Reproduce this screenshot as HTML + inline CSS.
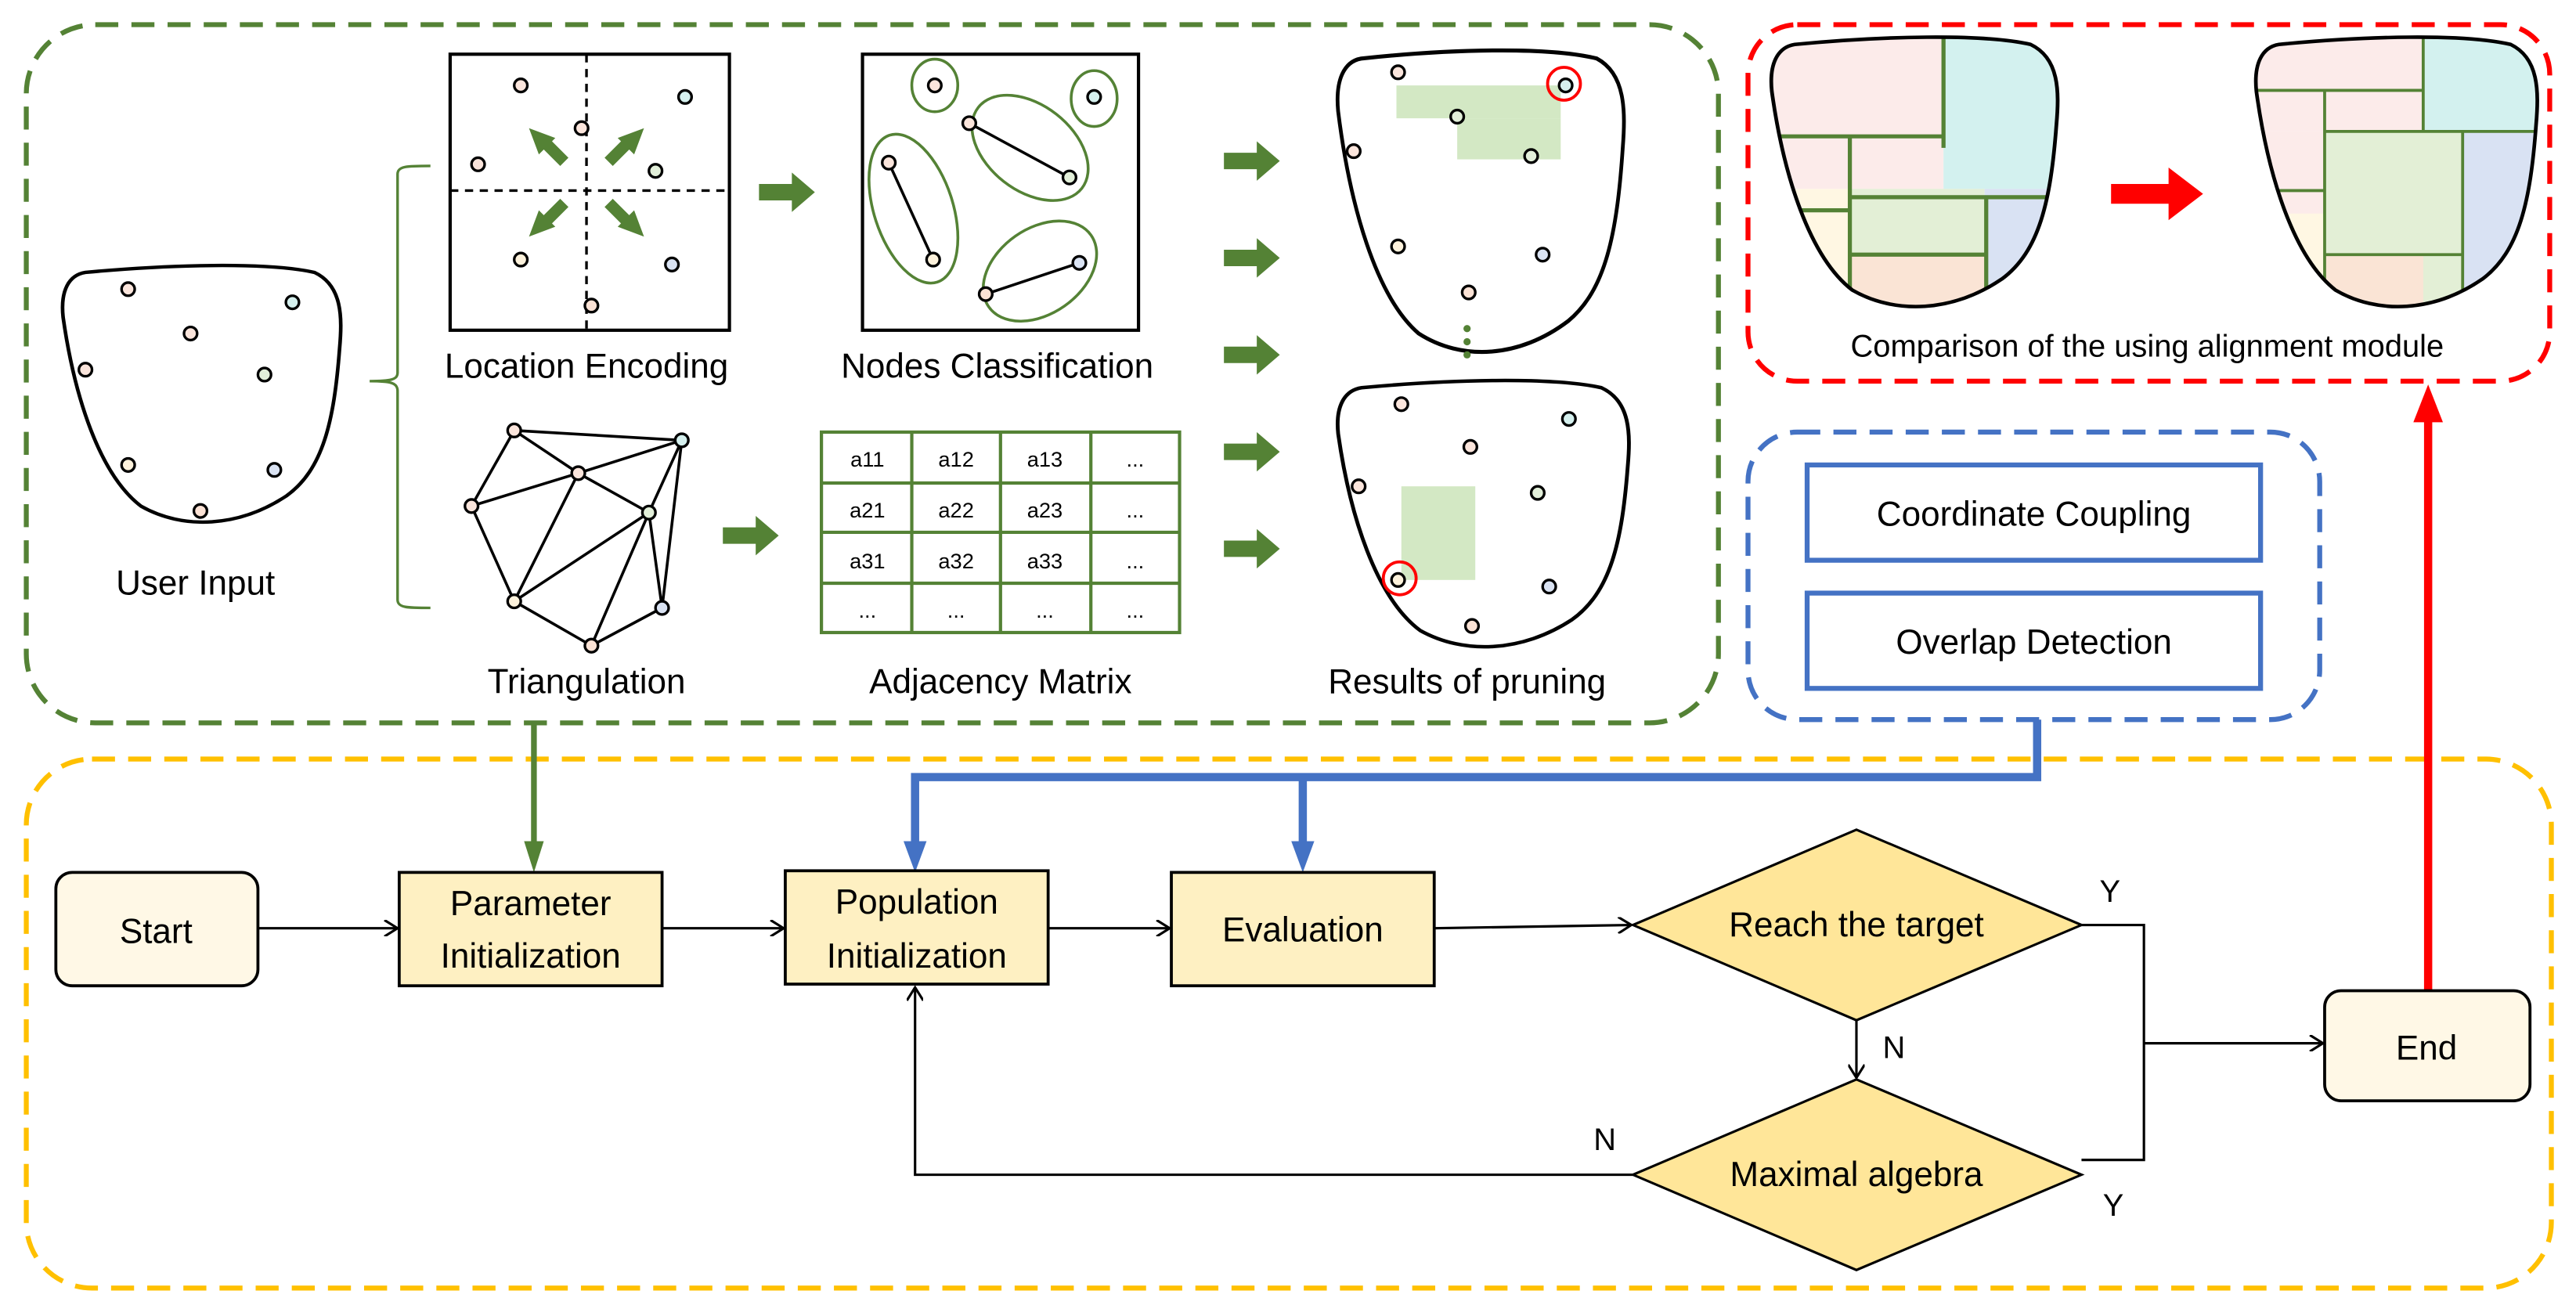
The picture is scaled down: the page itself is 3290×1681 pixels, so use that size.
<!DOCTYPE html>
<html><head><meta charset="utf-8"><style>
html,body{margin:0;padding:0;background:#fff;}
svg{display:block;}
text{font-family:"Liberation Sans",sans-serif;fill:#000;}
</style></head><body>
<svg width="3290" height="1681" viewBox="0 0 1568 801" preserveAspectRatio="none" xmlns="http://www.w3.org/2000/svg">
<defs>
<path id="blob" d="M10,3 C40,0 75,-1 92,3 C102,8 102,20 101,32 C99,60 95,78 82,88 C65,100 45,101 30,92 C15,80 6,50 2,20 C1,10 4,4 10,3 Z"/>
<clipPath id="cl1"><path transform="translate(1075,22) scale(1.75,1.68)" d="M10,3 C40,0 75,-1 92,3 C102,8 102,20 101,32 C99,60 95,78 82,88 C65,100 45,101 30,92 C15,80 6,50 2,20 C1,10 4,4 10,3 Z"/></clipPath>
<clipPath id="cl2"><path transform="translate(1370,22) scale(1.72,1.68)" d="M10,3 C40,0 75,-1 92,3 C102,8 102,20 101,32 C99,60 95,78 82,88 C65,100 45,101 30,92 C15,80 6,50 2,20 C1,10 4,4 10,3 Z"/></clipPath>
<marker id="ah" markerWidth="10" markerHeight="10" refX="9" refY="5" orient="auto" markerUnits="userSpaceOnUse"><path d="M1,0 L9,5 L1,10" fill="none" stroke="#000" stroke-width="1.5"/></marker>
<g id="garr"><path d="M0,-5 H20 V-12 L34,0 L20,12 V5 H0 Z" fill="#548235"/></g>
</defs>

<rect x="16" y="15" width="1030" height="425" rx="42" fill="none" stroke="#548235" stroke-width="3" stroke-dasharray="14,8"/>
<rect x="1064" y="15" width="488" height="217" rx="30" fill="none" stroke="#ff0000" stroke-width="3" stroke-dasharray="14,8"/>
<rect x="1064" y="263" width="348" height="175" rx="30" fill="none" stroke="#4472c4" stroke-width="3" stroke-dasharray="14,8"/>
<rect x="16" y="462" width="1537" height="322" rx="40" fill="none" stroke="#ffc000" stroke-width="3" stroke-dasharray="14,8"/>

<use href="#blob" transform="translate(35,161) scale(1.7,1.6)" fill="none" stroke="#000" stroke-width="1.3"/>
<g stroke="#000" stroke-width="1.6">
<circle cx="78" cy="176" r="4" fill="#fbe5dc"/><circle cx="178" cy="184" r="4" fill="#d5f0ee"/>
<circle cx="116" cy="203" r="4" fill="#fbe5dc"/><circle cx="52" cy="225" r="4" fill="#fbe5dc"/>
<circle cx="161" cy="228" r="4" fill="#e2efd9"/><circle cx="78" cy="283" r="4" fill="#fdf2dc"/>
<circle cx="167" cy="286" r="4" fill="#dae3f3"/><circle cx="122" cy="311" r="4" fill="#fbe2d5"/>
</g>
<text x="119" y="362" font-size="21" text-anchor="middle">User Input</text>

<path d="M262,101 C248,101 242,101 242,106 V227 C242,231 238,232 225,232 C238,232 242,233 242,238 V365 C242,370 248,370 262,370" fill="none" stroke="#548235" stroke-width="1.6"/>

<rect x="274" y="33" width="170" height="168" fill="none" stroke="#000" stroke-width="2"/>
<line x1="357" y1="33" x2="357" y2="201" stroke="#000" stroke-width="1.6" stroke-dasharray="5,4"/>
<line x1="274" y1="116" x2="444" y2="116" stroke="#000" stroke-width="1.6" stroke-dasharray="5,4"/>
<g fill="#548235">
<path d="M336,86 L346,96 L341,101 L331,91 L328,94 L322,78 L338,84 Z"/>
<path d="M373,101 L383,91 L386,94 L392,78 L376,84 L378,86 L368,96 Z"/>
<path d="M346,126 L336,136 L338,138 L322,144 L328,128 L331,131 L341,121 Z"/>
<path d="M368,126 L378,136 L376,138 L392,144 L386,128 L383,131 L373,121 Z"/>
</g>
<g stroke="#000" stroke-width="1.6">
<circle cx="317" cy="52" r="4" fill="#fbe5dc"/><circle cx="417" cy="59" r="4" fill="#d5f0ee"/>
<circle cx="354" cy="78" r="4" fill="#fbe5dc"/><circle cx="291" cy="100" r="4" fill="#fbe5dc"/>
<circle cx="399" cy="104" r="4" fill="#e2efd9"/><circle cx="317" cy="158" r="4" fill="#fdf2dc"/>
<circle cx="409" cy="161" r="4" fill="#dae3f3"/><circle cx="360" cy="186" r="4" fill="#fbe2d5"/>
</g>
<text x="357" y="230" font-size="21" text-anchor="middle">Location Encoding</text>

<g stroke="#000" stroke-width="1.7" fill="none">
<path d="M313,262 L415,268 L352,288 Z M313,262 L287,308 L352,288 M352,288 L395,312 L415,268 L403,370 L395,312 L360,393 L313,366 L287,308 M313,366 L352,288 M313,366 L395,312 M360,393 L403,370"/>
</g>
<g stroke="#000" stroke-width="1.6">
<circle cx="313" cy="262" r="4" fill="#fbe5dc"/><circle cx="415" cy="268" r="4" fill="#d5f0ee"/>
<circle cx="352" cy="288" r="4" fill="#fbe5dc"/><circle cx="287" cy="308" r="4" fill="#fbe5dc"/>
<circle cx="395" cy="312" r="4" fill="#e2efd9"/><circle cx="313" cy="366" r="4" fill="#fdf2dc"/>
<circle cx="403" cy="370" r="4" fill="#dae3f3"/><circle cx="360" cy="393" r="4" fill="#fbe2d5"/>
</g>
<text x="357" y="422" font-size="21" text-anchor="middle">Triangulation</text>

<use href="#garr" x="462" y="117"/>
<use href="#garr" x="440" y="326"/>

<rect x="525" y="33" width="168" height="168" fill="none" stroke="#000" stroke-width="2"/>
<g fill="none" stroke="#548235" stroke-width="1.7">
<ellipse cx="569" cy="52" rx="14" ry="16"/>
<ellipse cx="666" cy="60" rx="14" ry="17"/>
<ellipse cx="627" cy="90" rx="40" ry="26" transform="rotate(38 627 90)"/>
<ellipse cx="556" cy="127" rx="24" ry="47" transform="rotate(-18 556 127)"/>
<ellipse cx="633" cy="165" rx="38" ry="26" transform="rotate(-35 633 165)"/>
</g>
<g stroke="#000" stroke-width="1.7"><line x1="541" y1="99" x2="568" y2="158"/><line x1="590" y1="75" x2="651" y2="108"/><line x1="600" y1="179" x2="657" y2="160"/></g>
<g stroke="#000" stroke-width="1.6">
<circle cx="569" cy="52" r="4" fill="#fbe5dc"/><circle cx="666" cy="59" r="4" fill="#d5f0ee"/>
<circle cx="590" cy="75" r="4" fill="#fbe5dc"/><circle cx="541" cy="99" r="4" fill="#fbe5dc"/>
<circle cx="651" cy="108" r="4" fill="#e2efd9"/><circle cx="568" cy="158" r="4" fill="#fdf2dc"/>
<circle cx="657" cy="160" r="4" fill="#dae3f3"/><circle cx="600" cy="179" r="4" fill="#fbe2d5"/>
</g>
<text x="607" y="230" font-size="21" text-anchor="middle">Nodes Classification</text>

<g stroke="#548235" stroke-width="2" fill="none">
<rect x="500" y="263" width="218" height="122"/>
<line x1="555" y1="263" x2="555" y2="385"/><line x1="609" y1="263" x2="609" y2="385"/><line x1="664" y1="263" x2="664" y2="385"/>
<line x1="500" y1="294" x2="718" y2="294"/><line x1="500" y1="324" x2="718" y2="324"/><line x1="500" y1="355" x2="718" y2="355"/>
</g>
<g font-size="13" text-anchor="middle">
<text x="528" y="284">a11</text><text x="582" y="284">a12</text><text x="636" y="284">a13</text><text x="691" y="284">...</text>
<text x="528" y="315">a21</text><text x="582" y="315">a22</text><text x="636" y="315">a23</text><text x="691" y="315">...</text>
<text x="528" y="346">a31</text><text x="582" y="346">a32</text><text x="636" y="346">a33</text><text x="691" y="346">...</text>
<text x="528" y="376">...</text><text x="582" y="376">...</text><text x="636" y="376">...</text><text x="691" y="376">...</text>
</g>
<text x="609" y="422" font-size="21" text-anchor="middle">Adjacency Matrix</text>

<use href="#garr" x="745" y="98"/><use href="#garr" x="745" y="157"/><use href="#garr" x="745" y="216"/>
<use href="#garr" x="745" y="275"/><use href="#garr" x="745" y="334"/>

<rect x="850" y="52" width="100" height="20" fill="#d3e8c4"/>
<rect x="887" y="72" width="63" height="25" fill="#d3e8c4"/>
<use href="#blob" transform="translate(811,30) scale(1.75,1.88)" fill="none" stroke="#000" stroke-width="1.3"/>
<g stroke="#000" stroke-width="1.6">
<circle cx="851" cy="44" r="4" fill="#fbe5dc"/><circle cx="953" cy="52" r="4" fill="#d5f0ee"/>
<circle cx="887" cy="71" r="4" fill="#e2efd9"/><circle cx="824" cy="92" r="4" fill="#fbe5dc"/>
<circle cx="932" cy="95" r="4" fill="#e2efd9"/><circle cx="851" cy="150" r="4" fill="#fdf2dc"/>
<circle cx="939" cy="155" r="4" fill="#dae3f3"/><circle cx="894" cy="178" r="4" fill="#fbe2d5"/>
</g>
<circle cx="952" cy="51" r="10" fill="none" stroke="#ff0000" stroke-width="1.8"/>
<g fill="#548235"><circle cx="893" cy="200" r="2.2"/><circle cx="893" cy="208" r="2.2"/><circle cx="893" cy="216" r="2.2"/></g>

<rect x="853" y="296" width="45" height="57" fill="#d3e8c4"/>
<use href="#blob" transform="translate(811,231) scale(1.78,1.66)" fill="none" stroke="#000" stroke-width="1.3"/>
<g stroke="#000" stroke-width="1.6">
<circle cx="853" cy="246" r="4" fill="#fbe5dc"/><circle cx="955" cy="255" r="4" fill="#d5f0ee"/>
<circle cx="895" cy="272" r="4" fill="#fbe5dc"/><circle cx="827" cy="296" r="4" fill="#fbe5dc"/>
<circle cx="936" cy="300" r="4" fill="#e2efd9"/><circle cx="851" cy="353" r="4" fill="#fdf2dc"/>
<circle cx="943" cy="357" r="4" fill="#dae3f3"/><circle cx="896" cy="381" r="4" fill="#fbe2d5"/>
</g>
<circle cx="852" cy="352" r="10" fill="none" stroke="#ff0000" stroke-width="1.8"/>
<text x="893" y="422" font-size="21" text-anchor="middle">Results of pruning</text>

<g clip-path="url(#cl1)">
<rect x="1070" y="20" width="113" height="95" fill="#fcebea"/>
<rect x="1183" y="20" width="80" height="95" fill="#d3f1ef"/>
<rect x="1070" y="115" width="56" height="100" fill="#fff7e3"/>
<rect x="1126" y="115" width="82" height="100" fill="#e3efd6"/>
<rect x="1208" y="115" width="55" height="100" fill="#d9e2f3"/>
<rect x="1126" y="155" width="82" height="60" fill="#fae4d5"/>
<g stroke="#548235" stroke-width="2.5" fill="none">
<line x1="1183" y1="20" x2="1183" y2="90"/><line x1="1070" y1="83" x2="1183" y2="83"/>
<line x1="1126" y1="83" x2="1126" y2="200"/><line x1="1126" y1="120" x2="1262" y2="120"/>
<line x1="1070" y1="128" x2="1126" y2="128"/><line x1="1209" y1="120" x2="1209" y2="190"/>
<line x1="1126" y1="155" x2="1209" y2="155"/>
</g>
</g>
<use href="#blob" transform="translate(1075,22) scale(1.75,1.68)" fill="none" stroke="#000" stroke-width="1.3"/>
<path d="M1285,112 H1320 V102 L1341,118 L1320,134 V124 H1285 Z" fill="#ff0000"/>
<g clip-path="url(#cl2)">
<rect x="1365" y="20" width="110" height="60" fill="#fcebea"/>
<rect x="1475" y="20" width="70" height="60" fill="#d3f1ef"/>
<rect x="1365" y="80" width="50" height="120" fill="#fcebea"/>
<rect x="1365" y="130" width="50" height="80" fill="#fff7e3"/>
<rect x="1415" y="80" width="60" height="135" fill="#e3efd6"/>
<rect x="1415" y="155" width="84" height="60" fill="#fae4d5"/>
<rect x="1475" y="80" width="70" height="135" fill="#e3efd6"/>
<rect x="1499" y="80" width="50" height="135" fill="#d9e2f3"/>
<rect x="1415" y="80" width="84" height="75" fill="#e3efd6"/>
<g stroke="#548235" stroke-width="1.8" fill="none">
<line x1="1475" y1="20" x2="1475" y2="80"/><line x1="1365" y1="55" x2="1475" y2="55"/>
<line x1="1415" y1="55" x2="1415" y2="200"/><line x1="1415" y1="80" x2="1545" y2="80"/>
<line x1="1365" y1="116" x2="1415" y2="116"/><line x1="1499" y1="80" x2="1499" y2="190"/>
<line x1="1415" y1="155" x2="1499" y2="155"/>
</g>
</g>
<use href="#blob" transform="translate(1370,22) scale(1.72,1.68)" fill="none" stroke="#000" stroke-width="1.3"/>
<text x="1307" y="217" font-size="19" text-anchor="middle">Comparison of the using alignment module</text>

<rect x="1100" y="283" width="276" height="58" fill="#fff" stroke="#4472c4" stroke-width="3"/>
<text x="1238" y="320" font-size="21" text-anchor="middle">Coordinate Coupling</text>
<rect x="1100" y="361" width="276" height="58" fill="#fff" stroke="#4472c4" stroke-width="3"/>
<text x="1238" y="398" font-size="21" text-anchor="middle">Overlap Detection</text>

<line x1="325" y1="440" x2="325" y2="514" stroke="#548235" stroke-width="3.5"/>
<path d="M319,512 L331,512 L325,531 Z" fill="#548235"/>
<path d="M1240,438 V473 H557 V514 M793,473 V514" fill="none" stroke="#4472c4" stroke-width="5"/>
<path d="M550,512 L564,512 L557,531 Z M786,512 L800,512 L793,531 Z" fill="#4472c4"/>
<line x1="1478" y1="603" x2="1478" y2="255" stroke="#ff0000" stroke-width="5"/>
<path d="M1469,257 L1487,257 L1478,234 Z" fill="#ff0000"/>

<rect x="34" y="531" width="123" height="69" rx="10" fill="#fff8e6" stroke="#000" stroke-width="1.8"/>
<text x="95" y="574" font-size="21" text-anchor="middle">Start</text>
<rect x="243" y="531" width="160" height="69" fill="#fef0c2" stroke="#000" stroke-width="1.8"/>
<text x="323" y="557" font-size="21" text-anchor="middle">Parameter</text>
<text x="323" y="589" font-size="21" text-anchor="middle">Initialization</text>
<rect x="478" y="530" width="160" height="69" fill="#fef0c2" stroke="#000" stroke-width="1.8"/>
<text x="558" y="556" font-size="21" text-anchor="middle">Population</text>
<text x="558" y="589" font-size="21" text-anchor="middle">Initialization</text>
<rect x="713" y="531" width="160" height="69" fill="#fef0c2" stroke="#000" stroke-width="1.8"/>
<text x="793" y="573" font-size="21" text-anchor="middle">Evaluation</text>
<path d="M1130,505 L1267,563 L1130,621 L994,563 Z" fill="#ffe699" stroke="#000" stroke-width="1.5"/>
<text x="1130" y="570" font-size="21" text-anchor="middle">Reach the target</text>
<path d="M1130,657 L1267,715 L1130,773 L994,715 Z" fill="#ffe699" stroke="#000" stroke-width="1.5"/>
<text x="1130" y="722" font-size="21" text-anchor="middle">Maximal algebra</text>
<rect x="1415" y="603" width="125" height="67" rx="10" fill="#fff8e6" stroke="#000" stroke-width="1.8"/>
<text x="1477" y="645" font-size="21" text-anchor="middle">End</text>

<g fill="none" stroke="#000" stroke-width="1.5">
<line x1="157" y1="565" x2="242" y2="565" marker-end="url(#ah)"/>
<line x1="403" y1="565" x2="477" y2="565" marker-end="url(#ah)"/>
<line x1="638" y1="565" x2="712" y2="565" marker-end="url(#ah)"/>
<line x1="873" y1="565" x2="993" y2="563" marker-end="url(#ah)"/>
<line x1="1130" y1="621" x2="1130" y2="656" marker-end="url(#ah)"/>
<path d="M1267,563 H1305 V706 H1267"/>
<line x1="1305" y1="635" x2="1414" y2="635" marker-end="url(#ah)"/>
<path d="M994,715 H557 V601" marker-end="url(#ah)"/>
</g>
<g font-size="19">
<text x="1278" y="549">Y</text><text x="1146" y="644">N</text>
<text x="970" y="700">N</text><text x="1280" y="740">Y</text>
</g>
</svg>
</body></html>
